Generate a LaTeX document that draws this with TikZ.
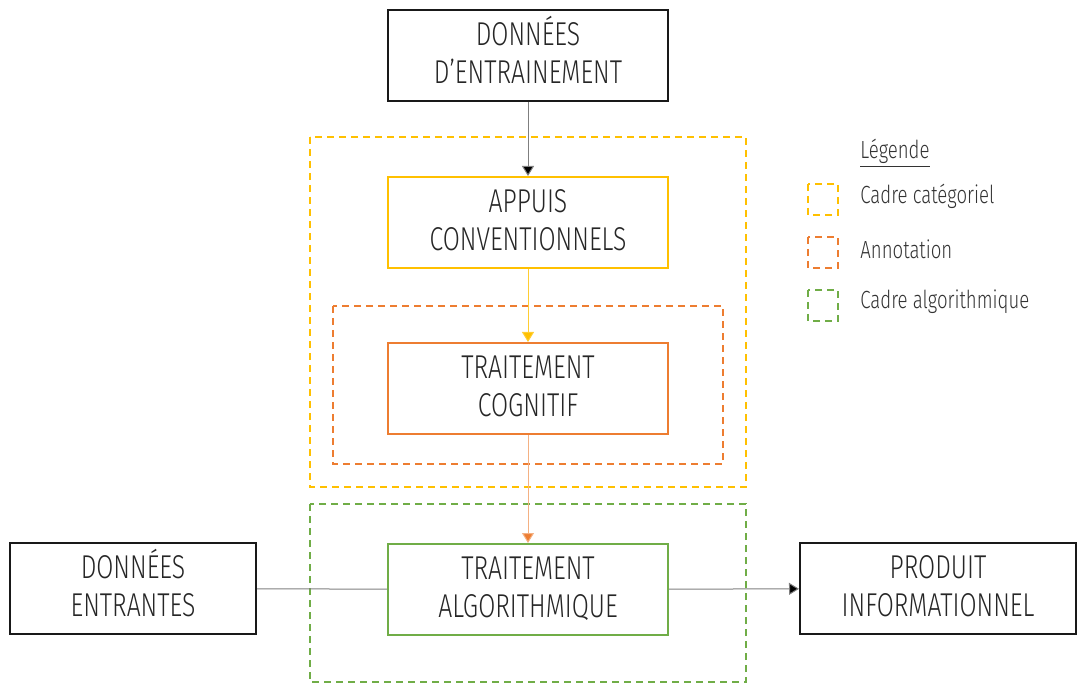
\documentclass[tikz,border=0pt]{standalone}
\usepackage{fontspec}
\setmainfont{Fira Sans Light}[FakeStretch=0.75]
\usetikzlibrary{positioning,arrows.meta}
\definecolor{cadrejaune}{HTML}{FFC000}
\definecolor{annotorange}{HTML}{ED7D31}
\definecolor{algovert}{HTML}{70AD47}
\definecolor{filgris}{HTML}{7F7F7F}
\newcommand{\titreboite}{\fontsize{16.5}{19}\selectfont}
\newcommand{\deuxlignes}[2]{\rule{0pt}{15pt}#1\\#2\rule[-6pt]{0pt}{6pt}}

\begin{document}
\begin{tikzpicture}[x=0.5pt, y=-0.5pt,
  boite/.style={draw, line width=1pt, minimum width=140pt, minimum height=45.5pt,
    inner sep=0pt, align=center, text=black!85, font=\titreboite},
  cadre/.style={dash pattern=on 3.5pt off 2.5pt, line width=0.75pt},
  fil/.style={line width=0.5pt, draw=filgris},
  legende/.style={anchor=west, inner sep=0pt, text=black!80, font=\fontsize{12.4}{14}\selectfont}]
  \useasboundingbox (0,0) rectangle (1077,684);

  % cadres en pointilles
  \draw[cadre, cadrejaune]  (310,137) rectangle (746,487);
  \draw[cadre, annotorange] (333,306) rectangle (723,464);
  \draw[cadre, algovert]    (310,504) rectangle (746,682);

  % boites
  \node[boite, draw=black!90] (entrainement) at (528,55.5) {\deuxlignes{DONNÉES}{D’ENTRAINEMENT}};
  \node[boite, draw=cadrejaune] (appuis) at (528,222.5) {\deuxlignes{APPUIS}{CONVENTIONNELS}};
  \node[boite, draw=annotorange] (cognitif) at (528,388.5) {\deuxlignes{TRAITEMENT}{COGNITIF}};
  \node[boite, draw=algovert] (algo) at (528,589.5) {\deuxlignes{TRAITEMENT}{ALGORITHMIQUE}};
  \node[boite, draw=black!90, minimum width=123pt] (entrantes) at (133,588.5) {\deuxlignes{DONNÉES}{ENTRANTES}};
  \node[boite, draw=black!90, minimum width=138pt] (produit) at (938,588.5) {\deuxlignes{PRODUIT}{INFORMATIONNEL}};

  % liaisons
  \draw[fil, -{Triangle[length=5pt,width=6pt,fill=black]}] (entrainement) -- (appuis);
  \draw[fil, draw=cadrejaune!80, -{Triangle[length=5pt,width=6pt,fill=cadrejaune]}] (appuis) -- (cognitif);
  \draw[fil, draw=annotorange!60, -{Triangle[length=5pt,width=6pt,fill=annotorange]}] (cognitif) -- (algo);
  \draw[fil] (entrantes) -- (algo);
  \draw[fil, -{Triangle[length=5pt,width=6pt,fill=black]}] (algo) -- (produit);

  % legende
  \node[legende] (titrelegende) at (860,153) {\underline{Légende}};
  \draw[cadre, cadrejaune]  (808,184) rectangle (838,215);
  \node[legende] (lcategoriel) at (860,196) {Cadre catégoriel};
  \draw[cadre, annotorange] (808,237) rectangle (838,268);
  \node[legende] (lannotation) at (860,249) {Annotation};
  \draw[cadre, algovert]    (808,290) rectangle (838,321);
  \node[legende] (lalgo) at (860,302) {Cadre algorithmique};
\end{tikzpicture}
\end{document}
